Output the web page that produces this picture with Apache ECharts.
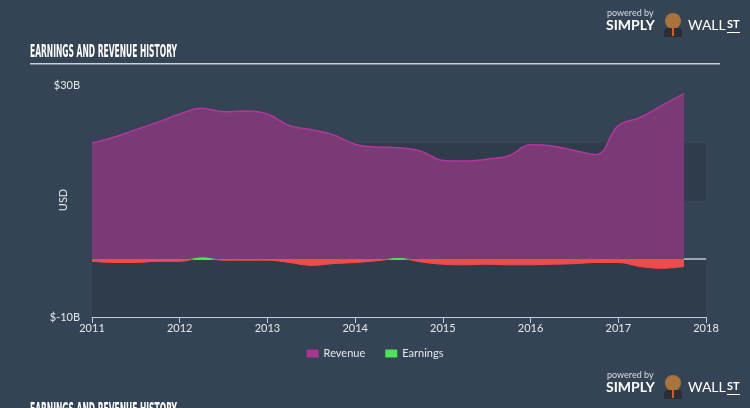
<!DOCTYPE html>
<html><head><meta charset="utf-8">
<script src="https://cdn.jsdelivr.net/npm/echarts@6/dist/echarts.min.js"></script>
<style>html,body{margin:0;padding:0;background:#344454;}#c{width:750px;height:408px;}</style>
</head><body><div id="c"></div>
<script>
// Decimal years (quarterly)
const periods = [2011.0,2011.25,2011.5,2011.75,2012.0,2012.25,2012.5,2012.75,2013.0,2013.25,2013.5,2013.75,
  2014.0,2014.25,2014.5,2014.75,2015.0,2015.25,2015.5,2015.75,2016.0,2016.25,2016.5,2016.75,2017.0,2017.25,2017.5,2017.75];
// Billions USD
const revenue = [20.0,21.0,22.3,23.6,25.0,26.0,25.4,25.5,25.0,23.0,22.3,21.4,
  19.8,19.3,19.2,18.6,17.0,16.9,17.2,17.8,19.7,19.5,18.7,18.0,23.0,24.4,26.5,28.5];
const earnings = [-0.4,-0.6,-0.6,-0.4,-0.4,0.2,-0.2,-0.2,-0.2,-0.6,-1.1,-0.8,
  -0.6,-0.3,0.1,-0.5,-0.9,-1.0,-0.9,-1.0,-1.0,-0.9,-0.8,-0.6,-0.6,-1.3,-1.6,-1.3];
const yearTicks = [2011,2012,2013,2014,2015,2016,2017,2018];
const seriesNames = ['Revenue','Earnings'];
const titleText = 'EARNINGS AND REVENUE HISTORY';

const font = 'Lato, "Open Sans", sans-serif';
const titleFont = 'bold 18px "Liberation Sans Narrow", "DejaVu Sans Condensed", sans-serif';
const mctx = document.createElement('canvas').getContext('2d');
mctx.font = titleFont;
const titleScale = 147 / mctx.measureText(titleText).width;

const chart = echarts.init(document.getElementById('c'), null, {renderer:'canvas'});
const logo = (top) => ([
  {type:'text', x:607, y:top, style:{text:'powered by', fill:'#d8dee4', font:'9px '+font}},
  {type:'text', x:606, y:top+9, style:{text:'SIMPLY', fill:'#ffffff', font:'bold 14px '+font}},
  {type:'circle', shape:{cx:673, cy:top+12, r:8}, style:{fill:'#a8743a'}},
  {type:'rect', shape:{x:664, y:top+19, width:18, height:9, r:[4,4,0,0]}, style:{fill:'#2a2f36'}},
  {type:'rect', shape:{x:672, y:top+19, width:2, height:8}, style:{fill:'#e0552a'}},
  {type:'text', x:688, y:top+9, style:{text:'WALL', fill:'#ffffff', font:'14px '+font}},
  {type:'text', x:727, y:top+10, style:{text:'ST', fill:'#ffffff', font:'bold 11px '+font}},
  {type:'rect', shape:{x:727, y:top+23, width:13, height:1}, style:{fill:'#ffffff'}}
]);

chart.setOption({
  backgroundColor:'#344454',
  animation:false,
  grid:{left:92, right:44, top:85, bottom:91},
  xAxis:{type:'value', min:2011, max:2018, interval:1,
    axisLine:{show:true, onZero:false, lineStyle:{color:'#c4cdd4', width:1}},
    axisTick:{show:true, length:6, lineStyle:{color:'#c4cdd4'}},
    axisLabel:{color:'#e4e8ec', fontSize:11, fontFamily:font, margin:6,
      formatter:v => yearTicks.includes(v) ? String(v) : ''},
    splitLine:{show:false}},
  yAxis:{type:'value', min:-10, max:30, interval:10,
    axisLine:{show:false}, axisTick:{show:false},
    axisLabel:{color:'#e4e8ec', fontSize:11, fontFamily:font, margin:12,
      formatter:v => (v===30 ? '$30B' : (v===-10 ? '$-10B' : ''))},
    splitLine:{show:false},
    splitArea:{show:true, areaStyle:{color:['#2e3c4b','#344454','#2e3c4b','#344454']}}},
  legend:{bottom:44, left:'center', itemWidth:12, itemHeight:8, itemGap:20,
    textStyle:{color:'#e4e8ec', fontSize:11, fontFamily:font},
    data:[{name:'Revenue', icon:'rect'},{name:'Earnings', icon:'rect'}]},
  visualMap:{show:false, type:'piecewise', seriesIndex:2, dimension:1,
    pieces:[{min:-100, max:0, color:'#f24a4a'},{min:0.0001, max:100, color:'#4be35a'}]},
  series:[
    {name:'zero', type:'line', data:[], z:1, silent:true,
      markLine:{silent:true, symbol:'none', label:{show:false}, z:1,
        lineStyle:{color:'#9aa6b0', width:2, type:'solid'},
        data:[{yAxis:0}]}},
    {name:seriesNames[0], type:'line', smooth:0.4, symbol:'none',
      data:periods.map((p,i)=>[p,revenue[i]]),
      color:'#a8358f',
      lineStyle:{color:'#b3369c', width:1.5},
      areaStyle:{color:'#7a3a75', opacity:1},
      z:2},
    {name:seriesNames[1], type:'line', smooth:0.4, symbol:'none',
      data:periods.map((p,i)=>[p,earnings[i]]),
      color:'#4be35a',
      lineStyle:{width:1},
      areaStyle:{opacity:1},
      z:3}
  ],
  graphic:[
    {type:'text', x:30, y:43, scaleX:titleScale, style:{text:titleText, fill:'#ffffff', font:titleFont}},
    {type:'rect', shape:{x:30, y:63, width:690, height:1.5}, style:{fill:'#c8d0d8'}},
    {type:'text', x:63, y:200, rotation:Math.PI/2, style:{text:'USD', fill:'#e4e8ec', font:'11px '+font, align:'center', verticalAlign:'middle'}},
    ...logo(9),
    ...logo(371),
    {type:'text', x:30, y:401, scaleX:titleScale, style:{text:titleText, fill:'#ffffff', font:titleFont}}
  ]
});
</script></body></html>
